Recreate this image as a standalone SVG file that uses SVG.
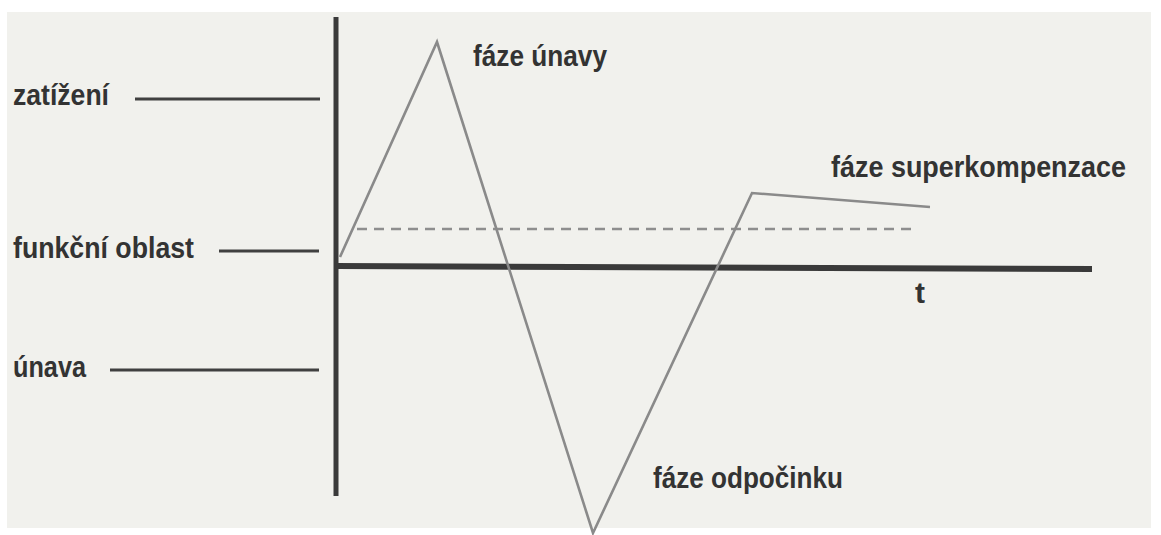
<svg xmlns="http://www.w3.org/2000/svg" width="1161" height="535" viewBox="0 0 1161 535">
  <style>
    .lbl { font-family: "Liberation Sans", Arial, sans-serif; font-weight: bold; font-size: 30px; fill: #333333; }
    .axis { stroke: #3a3a3a; stroke-linecap: butt; fill: none; }
    .tick { stroke: #404040; stroke-width: 3; fill: none; }
    .curve { stroke: #8a8a8a; stroke-width: 2.6; fill: none; stroke-linejoin: miter; }
    .dash { stroke: #8e8e8e; stroke-width: 2.4; stroke-dasharray: 10 7; fill: none; }
  </style>
  <rect x="0" y="0" width="1161" height="535" fill="#ffffff"/>
  <rect x="7" y="12" width="1144" height="516" fill="#f1f1ed"/>

  <g id="axes">
    <line id="y-axis" class="axis" x1="336" y1="17" x2="336" y2="496" stroke-width="5"/>
    <line id="x-axis" class="axis" x1="336" y1="266" x2="1092" y2="269" stroke-width="6"/>
  </g>

  <g id="connectors">
    <line class="tick" x1="135" y1="99" x2="320" y2="99"/>
    <line class="tick" x1="219" y1="251" x2="319" y2="251"/>
    <line class="tick" x1="110" y1="370" x2="319" y2="370"/>
    <line class="dash" x1="357" y1="229" x2="913" y2="229"/>
    <polyline class="curve" points="340,257 437,42 593,533 752,193 930,207"/>
  </g>

  <g id="node-zatizeni"><text class="lbl" x="13" y="105" textLength="96" lengthAdjust="spacingAndGlyphs">zatížení</text></g>
  <g id="node-funkcni-oblast"><text class="lbl" x="13" y="258" textLength="181" lengthAdjust="spacingAndGlyphs">funkční oblast</text></g>
  <g id="node-unava"><text class="lbl" x="13" y="377" textLength="73" lengthAdjust="spacingAndGlyphs">únava</text></g>
  <g id="node-faze-unavy"><text class="lbl" x="473" y="66" textLength="134" lengthAdjust="spacingAndGlyphs">fáze únavy</text></g>
  <g id="node-faze-superkompenzace"><text class="lbl" x="831" y="177" textLength="295" lengthAdjust="spacingAndGlyphs">fáze superkompenzace</text></g>
  <g id="node-faze-odpocinku"><text class="lbl" x="653" y="488" textLength="190" lengthAdjust="spacingAndGlyphs">fáze odpočinku</text></g>
  <g id="node-t"><text class="lbl" x="915" y="303" textLength="10" lengthAdjust="spacingAndGlyphs">t</text></g>
</svg>
